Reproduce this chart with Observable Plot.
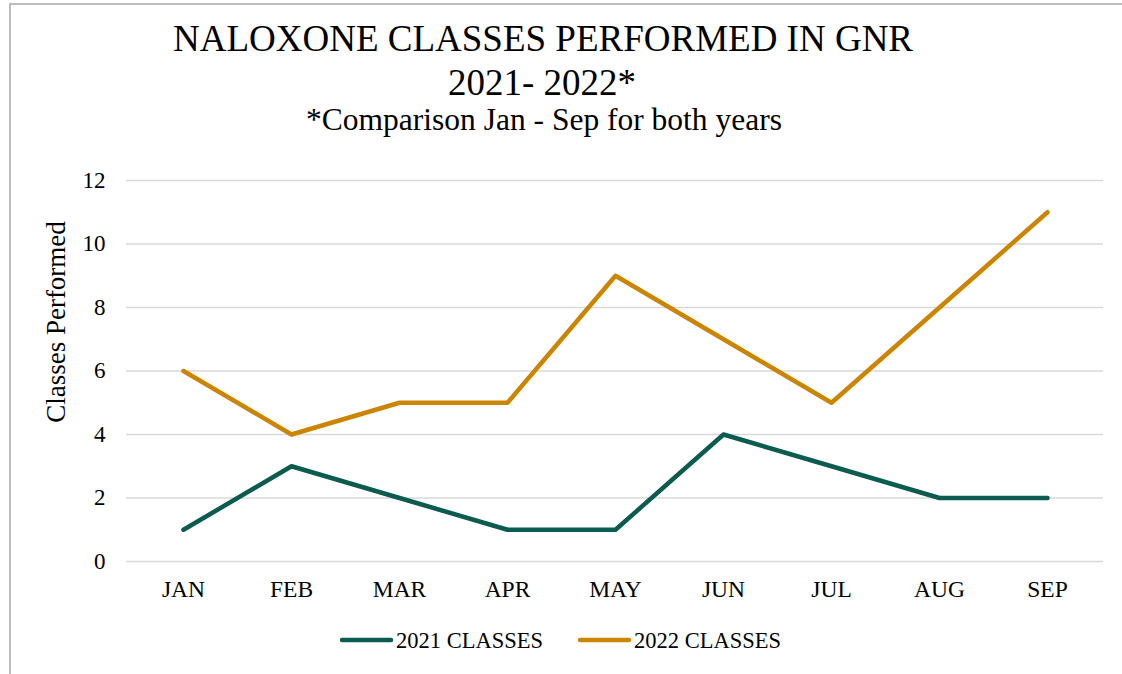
<!DOCTYPE html>
<html>
<head>
<meta charset="utf-8">
<script src="https://cdn.jsdelivr.net/npm/d3@7"></script>
<script src="https://cdn.jsdelivr.net/npm/@observablehq/plot@0.6"></script>
<style>
  html, body { margin: 0; padding: 0; background: #fff; overflow: hidden; }
  #wrap { position: relative; width: 1122px; height: 674px; font-family: "Liberation Serif", "Times New Roman", serif; color: #000; }
  #frame { position: absolute; left: 9px; top: 3px; width: 1200px; height: 800px; border-left: 2px solid #bdbdbd; border-top: 2px solid #bdbdbd; box-sizing: border-box; }
  #chart { position: absolute; left: 0; top: 0; }
  #titles { position: absolute; left: 0; top: 0; }
</style>
</head>
<body>
<div id="wrap">
  <div id="frame"></div>
  <div id="chart"></div>
  <svg id="titles" width="1122" height="674"></svg>
</div>
<script>
const months = ["JAN","FEB","MAR","APR","MAY","JUN","JUL","AUG","SEP"];
const classes2021 = [1,3,2,1,1,4,3,2,2];
const classes2022 = [6,4,5,5,9,7,5,8,11];
const seriesNames = ["2021 CLASSES","2022 CLASSES"];
const seriesColors = ["#0b5c4f","#cc8500"];
const yTicks = [0,2,4,6,8,10,12];
const titleLine1 = "NALOXONE CLASSES PERFORMED IN GNR";
const titleLine2 = "2021- 2022*";
const subtitle = "*Comparison Jan - Sep for both years";
const yLabel = "Classes Performed";

const data = [];
months.forEach((m,i) => data.push({month:m, value:classes2021[i], series:seriesNames[0]}));
months.forEach((m,i) => data.push({month:m, value:classes2022[i], series:seriesNames[1]}));

const ff = '"Liberation Serif", "Times New Roman", serif';

const chart = Plot.plot({
  width: 1122,
  height: 674,
  marginLeft: 126,
  marginRight: 19,
  marginTop: 180,
  marginBottom: 113,
  style: {fontFamily: ff, color: "#000", background: "transparent", overflow: "visible"},
  x: {type: "point", domain: months, padding: 0.5, label: null},
  y: {domain: [0,12], label: null},
  color: {domain: seriesNames, range: seriesColors},
  marks: [
    Plot.ruleY(yTicks, {stroke: "#d9d9d9", strokeWidth: 1.5}),
    Plot.axisY(yTicks, {tickSize: 0, tickPadding: 21, fontSize: 23, fontFamily: ff, label: null}),
    Plot.axisX({tickSize: 0, tickPadding: 19, fontSize: 23.5, fontFamily: ff, label: null}),
    Plot.line(data, {x: "month", y: "value", z: "series", stroke: "series", strokeWidth: 4.5, strokeLinecap: "round", strokeLinejoin: "round"})
  ]
});
document.getElementById("chart").appendChild(chart);

const svg = d3.select("#titles");
svg.append("text").attr("x", 543).attr("y", 51).attr("text-anchor", "middle").attr("font-family", ff).attr("font-size", 37).text(titleLine1);
svg.append("text").attr("x", 542).attr("y", 95).attr("text-anchor", "middle").attr("font-family", ff).attr("font-size", 37).text(titleLine2);
svg.append("text").attr("x", 544).attr("y", 130).attr("text-anchor", "middle").attr("font-family", ff).attr("font-size", 31.5).text(subtitle);
svg.append("text").attr("transform", "translate(65,322) rotate(-90)").attr("text-anchor", "middle").attr("font-family", ff).attr("font-size", 27).text(yLabel);

// legend
const legendX = [340, 578];
seriesNames.forEach((name, i) => {
  const g = svg.append("g").attr("transform", `translate(${legendX[i]},640)`);
  g.append("line").attr("x1", 2).attr("x2", 51).attr("y1", 0).attr("y2", 0)
    .attr("stroke", seriesColors[i]).attr("stroke-width", 4.5).attr("stroke-linecap", "round");
  g.append("text").attr("x", 56).attr("y", 8).attr("font-family", ff).attr("font-size", 22.5).text(name);
});
</script>
</body>
</html>
